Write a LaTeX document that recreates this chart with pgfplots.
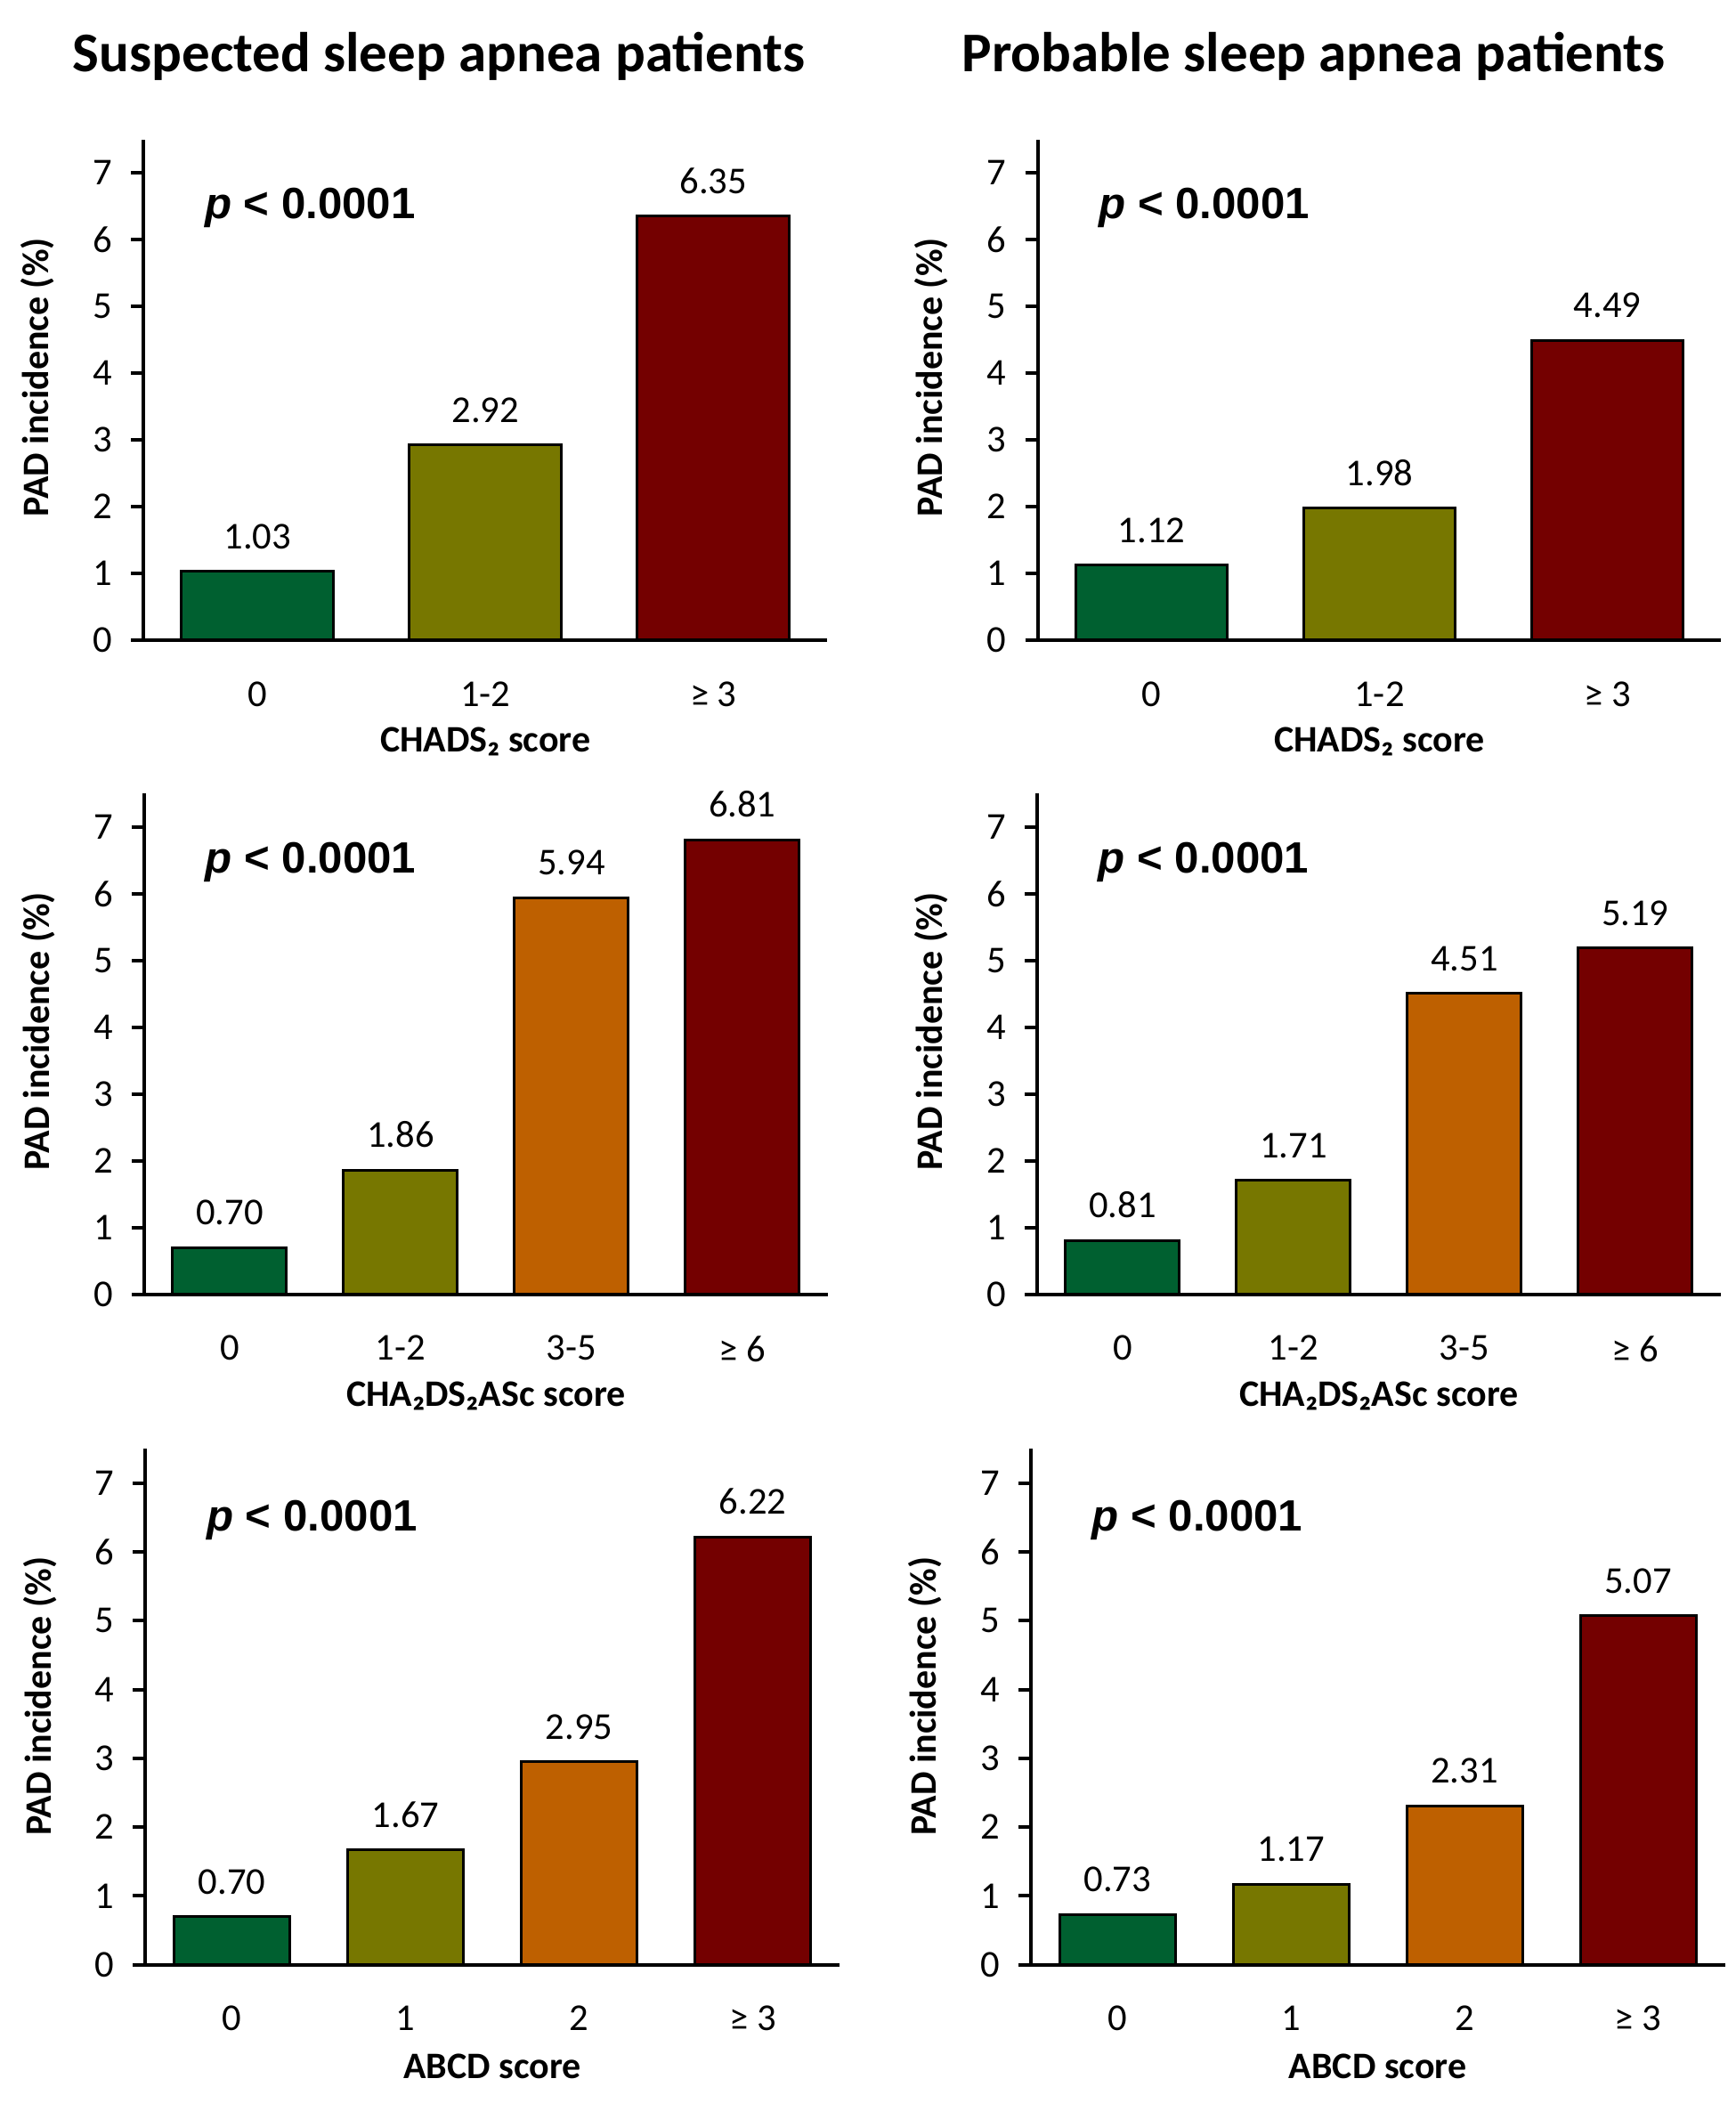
\documentclass[border=0pt]{standalone}
\usepackage{fontspec}
\setmainfont{Carlito}
\newfontfamily\arialfont{Liberation Sans}
\usepackage{pgfplots}
\pgfplotsset{compat=1.18}
\definecolor{cgreen}{RGB}{0,96,48}
\definecolor{colive}{RGB}{119,119,0}
\definecolor{corange}{RGB}{190,96,0}
\definecolor{cred}{RGB}{116,0,0}
\newcommand{\ptext}{\arialfont\bfseries\textit{p} < 0.0001}
\tikzset{ptxt/.style={anchor=base west, inner sep=0pt, font=\fontsize{8.2}{10}\selectfont}}
\pgfplotsset{
  panel/.style={
    scale only axis, width=128pt, height=93.75pt,
    axis x line*=bottom, axis y line*=left,
    axis line style={line width=0.67pt, black},
    ymin=0, ymax=7.5, ytick={0,1,2,3,4,5,6,7},
    ytick style={line width=0.67pt, black},
    major tick length=2.33pt, tick align=outside,
    xtick style={draw=none},
    enlarge x limits=false,
    ybar, clip=false,
    /pgf/number format/assume math mode=true,
    tick label style={font=\fontsize{7.1}{8}\selectfont},
    xticklabel style={yshift=-1.9pt},
    nodes near coords, point meta=explicit symbolic,
    every node near coord/.append style={font=\fontsize{7.1}{8}\selectfont, black, yshift=0.6pt},
    xlabel style={at={(axis description cs:0.5,0)}, yshift=-19pt, anchor=center, font=\fontsize{7}{8}\selectfont\bfseries},
    ylabel style={at={(axis description cs:-0.155,0.525)}, anchor=center, font=\fontsize{7}{8}\selectfont\bfseries},
    ylabel={PAD incidence (\%)},
  },
  mybar/.style={fill=#1, draw=black, line width=0.5pt, bar width=0.667, bar shift=0pt},
}
\begin{document}
\begin{tikzpicture}
\path (0,0) rectangle (325pt,393.75pt);
\node[font=\fontsize{10.5}{12}\selectfont\bfseries] at (82.2pt,383.25pt) {Suspected sleep apnea patients};
\node[font=\fontsize{10.5}{12}\selectfont\bfseries] at (246pt,383.25pt) {Probable sleep apnea patients};

% Row 1 left
\begin{axis}[panel, at={(26.9pt,273.9pt)}, anchor=south west,
  xmin=-0.5, xmax=2.5, xtick={0,1,2}, xticklabels={0,1-2,≥ 3},
  xlabel={CHADS₂ score}]
\addplot[mybar=cgreen] coordinates {(0,1.03) [1.03]};
\addplot[mybar=colive] coordinates {(1,2.92) [2.92]};
\addplot[mybar=cred] coordinates {(2,6.35) [6.35]};
\node[ptxt] at (axis description cs:0.088,0.841) {\ptext};
\end{axis}

% Row 1 right
\begin{axis}[panel, at={(194.3pt,273.9pt)}, anchor=south west,
  xmin=-0.5, xmax=2.5, xtick={0,1,2}, xticklabels={0,1-2,≥ 3},
  xlabel={CHADS₂ score}]
\addplot[mybar=cgreen] coordinates {(0,1.12) [1.12]};
\addplot[mybar=colive] coordinates {(1,1.98) [1.98]};
\addplot[mybar=cred] coordinates {(2,4.49) [4.49]};
\node[ptxt] at (axis description cs:0.088,0.841) {\ptext};
\end{axis}

% Row 2 left
\begin{axis}[panel, at={(27pt,151.4pt)}, anchor=south west,
  xmin=-0.5, xmax=3.5, xtick={0,1,2,3}, xticklabels={0,1-2,3-5,≥ 6},
  xlabel={CHA₂DS₂ASc score}]
\addplot[mybar=cgreen] coordinates {(0,0.70) [0.70]};
\addplot[mybar=colive] coordinates {(1,1.86) [1.86]};
\addplot[mybar=corange] coordinates {(2,5.94) [5.94]};
\addplot[mybar=cred] coordinates {(3,6.81) [6.81]};
\node[ptxt] at (axis description cs:0.088,0.841) {\ptext};
\end{axis}

% Row 2 right
\begin{axis}[panel, at={(194.2pt,151.4pt)}, anchor=south west,
  xmin=-0.5, xmax=3.5, xtick={0,1,2,3}, xticklabels={0,1-2,3-5,≥ 6},
  xlabel={CHA₂DS₂ASc score}]
\addplot[mybar=cgreen] coordinates {(0,0.81) [0.81]};
\addplot[mybar=colive] coordinates {(1,1.71) [1.71]};
\addplot[mybar=corange] coordinates {(2,4.51) [4.51]};
\addplot[mybar=cred] coordinates {(3,5.19) [5.19]};
\node[ptxt] at (axis description cs:0.088,0.841) {\ptext};
\end{axis}

% Row 3 left
\begin{axis}[panel, at={(27.2pt,25.9pt)}, anchor=south west, height=96.6pt, width=130pt,
  ylabel style={at={(axis description cs:-0.152,0.52)}},
  xmin=-0.5, xmax=3.5, xtick={0,1,2,3}, xticklabels={0,1,2,≥ 3},
  xlabel={ABCD score}]
\addplot[mybar=cgreen] coordinates {(0,0.70) [0.70]};
\addplot[mybar=colive] coordinates {(1,1.67) [1.67]};
\addplot[mybar=corange] coordinates {(2,2.95) [2.95]};
\addplot[mybar=cred] coordinates {(3,6.22) [6.22]};
\node[ptxt] at (axis description cs:0.087,0.841) {\ptext};
\end{axis}

% Row 3 right
\begin{axis}[panel, at={(193pt,25.9pt)}, anchor=south west, height=96.6pt, width=130pt,
  ylabel style={at={(axis description cs:-0.152,0.52)}},
  xmin=-0.5, xmax=3.5, xtick={0,1,2,3}, xticklabels={0,1,2,≥ 3},
  xlabel={ABCD score}]
\addplot[mybar=cgreen] coordinates {(0,0.73) [0.73]};
\addplot[mybar=colive] coordinates {(1,1.17) [1.17]};
\addplot[mybar=corange] coordinates {(2,2.31) [2.31]};
\addplot[mybar=cred] coordinates {(3,5.07) [5.07]};
\node[ptxt] at (axis description cs:0.087,0.841) {\ptext};
\end{axis}
\end{tikzpicture}
\end{document}
